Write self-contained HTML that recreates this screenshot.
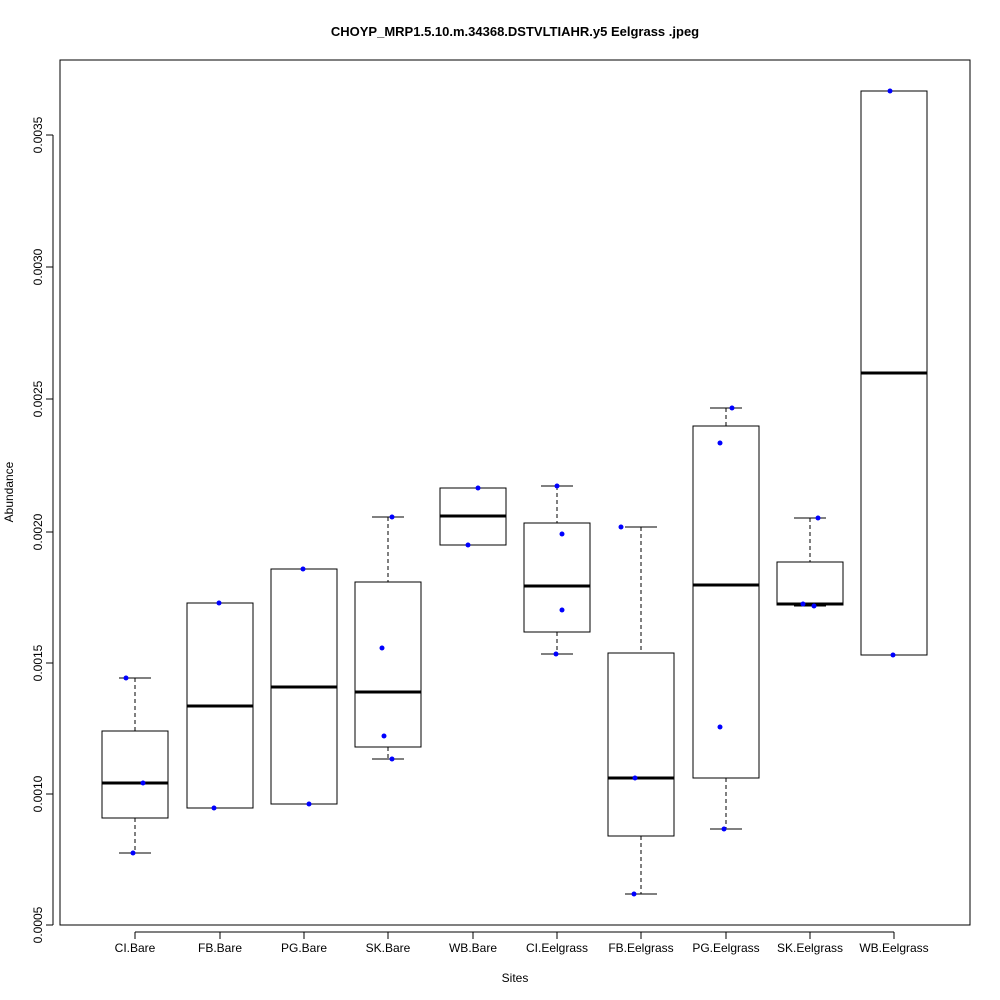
<!DOCTYPE html>
<html><head><style>body{margin:0;background:#fff}svg{display:block}text{font-family:"Liberation Sans",Arial,sans-serif}</style></head><body>
<svg width="1000" height="1000" viewBox="0 0 1000 1000">
<rect width="1000" height="1000" fill="#fff"/>
<text x="515" y="36" text-anchor="middle" font-size="13" font-weight="bold">CHOYP_MRP1.5.10.m.34368.DSTVLTIAHR.y5 Eelgrass .jpeg</text>
<rect x="60" y="60" width="910" height="865" fill="none" stroke="#000"/>
<g stroke="#000">
<line x1="53" y1="135" x2="53" y2="925"/>
<line x1="46" y1="925" x2="53" y2="925"/><line x1="46" y1="794" x2="53" y2="794"/><line x1="46" y1="663" x2="53" y2="663"/><line x1="46" y1="532" x2="53" y2="532"/><line x1="46" y1="399" x2="53" y2="399"/><line x1="46" y1="267" x2="53" y2="267"/><line x1="46" y1="135" x2="53" y2="135"/>
<line x1="135" y1="932" x2="894" y2="932"/>
<line x1="135" y1="932" x2="135" y2="939"/><line x1="220" y1="932" x2="220" y2="939"/><line x1="304" y1="932" x2="304" y2="939"/><line x1="388" y1="932" x2="388" y2="939"/><line x1="473" y1="932" x2="473" y2="939"/><line x1="557" y1="932" x2="557" y2="939"/><line x1="641" y1="932" x2="641" y2="939"/><line x1="726" y1="932" x2="726" y2="939"/><line x1="810" y1="932" x2="810" y2="939"/><line x1="894" y1="932" x2="894" y2="939"/>
</g>
<g font-size="12" text-anchor="middle">
<text transform="translate(42,925) rotate(-90)">0.0005</text>
<text transform="translate(42,794) rotate(-90)">0.0010</text>
<text transform="translate(42,663) rotate(-90)">0.0015</text>
<text transform="translate(42,532) rotate(-90)">0.0020</text>
<text transform="translate(42,399) rotate(-90)">0.0025</text>
<text transform="translate(42,267) rotate(-90)">0.0030</text>
<text transform="translate(42,135) rotate(-90)">0.0035</text>
<text x="135" y="952">CI.Bare</text><text x="220" y="952">FB.Bare</text><text x="304" y="952">PG.Bare</text><text x="388" y="952">SK.Bare</text><text x="473" y="952">WB.Bare</text><text x="557" y="952">CI.Eelgrass</text><text x="641" y="952">FB.Eelgrass</text><text x="726" y="952">PG.Eelgrass</text><text x="810" y="952">SK.Eelgrass</text><text x="894" y="952">WB.Eelgrass</text>
<text x="515" y="982">Sites</text>
<text transform="translate(13,492) rotate(-90)">Abundance</text>
</g>
<g fill="none" stroke="#000">
<!-- CI.Bare -->
<line x1="135" y1="678" x2="135" y2="731" stroke-dasharray="4,3"/><line x1="135" y1="818" x2="135" y2="853" stroke-dasharray="4,3"/>
<line x1="119" y1="678" x2="151" y2="678"/><line x1="119" y1="853" x2="151" y2="853"/>
<rect x="102" y="731" width="66" height="87"/><line x1="102" y1="783" x2="168" y2="783" stroke-width="3"/>
<!-- FB.Bare -->
<line x1="204" y1="603" x2="236" y2="603"/><line x1="204" y1="808" x2="236" y2="808"/>
<rect x="187" y="603" width="66" height="205"/><line x1="187" y1="706" x2="253" y2="706" stroke-width="3"/>
<!-- PG.Bare -->
<line x1="288" y1="569" x2="320" y2="569"/><line x1="288" y1="804" x2="320" y2="804"/>
<rect x="271" y="569" width="66" height="235"/><line x1="271" y1="687" x2="337" y2="687" stroke-width="3"/>
<!-- SK.Bare -->
<line x1="388" y1="517" x2="388" y2="582" stroke-dasharray="4,3"/><line x1="388" y1="747" x2="388" y2="759" stroke-dasharray="4,3"/>
<line x1="372" y1="517" x2="404" y2="517"/><line x1="372" y1="759" x2="404" y2="759"/>
<rect x="355" y="582" width="66" height="165"/><line x1="355" y1="692" x2="421" y2="692" stroke-width="3"/>
<!-- WB.Bare -->
<line x1="457" y1="488" x2="489" y2="488"/><line x1="457" y1="545" x2="489" y2="545"/>
<rect x="440" y="488" width="66" height="57"/><line x1="440" y1="516" x2="506" y2="516" stroke-width="3"/>
<!-- CI.Eelgrass -->
<line x1="557" y1="486" x2="557" y2="523" stroke-dasharray="4,3"/><line x1="557" y1="632" x2="557" y2="654" stroke-dasharray="4,3"/>
<line x1="541" y1="486" x2="573" y2="486"/><line x1="541" y1="654" x2="573" y2="654"/>
<rect x="524" y="523" width="66" height="109"/><line x1="524" y1="586" x2="590" y2="586" stroke-width="3"/>
<!-- FB.Eelgrass -->
<line x1="641" y1="527" x2="641" y2="653" stroke-dasharray="4,3"/><line x1="641" y1="836" x2="641" y2="894" stroke-dasharray="4,3"/>
<line x1="625" y1="527" x2="657" y2="527"/><line x1="625" y1="894" x2="657" y2="894"/>
<rect x="608" y="653" width="66" height="183"/><line x1="608" y1="778" x2="674" y2="778" stroke-width="3"/>
<!-- PG.Eelgrass -->
<line x1="726" y1="408" x2="726" y2="426" stroke-dasharray="4,3"/><line x1="726" y1="778" x2="726" y2="829" stroke-dasharray="4,3"/>
<line x1="710" y1="408" x2="742" y2="408"/><line x1="710" y1="829" x2="742" y2="829"/>
<rect x="693" y="426" width="66" height="352"/><line x1="693" y1="585" x2="759" y2="585" stroke-width="3"/>
<!-- SK.Eelgrass -->
<line x1="810" y1="518" x2="810" y2="562" stroke-dasharray="4,3"/>
<line x1="794" y1="518" x2="826" y2="518"/><line x1="794" y1="606" x2="826" y2="606"/>
<rect x="777" y="562" width="66" height="43"/><line x1="777" y1="604" x2="843" y2="604" stroke-width="3"/>
<!-- WB.Eelgrass -->
<line x1="878" y1="91" x2="910" y2="91"/><line x1="878" y1="655" x2="910" y2="655"/>
<rect x="861" y="91" width="66" height="564"/><line x1="861" y1="373" x2="927" y2="373" stroke-width="3"/>
</g>
<g fill="#00f">
<circle cx="126" cy="678" r="2.5"/><circle cx="143" cy="783" r="2.5"/><circle cx="133" cy="853" r="2.5"/>
<circle cx="219" cy="603" r="2.5"/><circle cx="214" cy="808" r="2.5"/>
<circle cx="303" cy="569" r="2.5"/><circle cx="309" cy="804" r="2.5"/>
<circle cx="392" cy="517" r="2.5"/><circle cx="382" cy="648" r="2.5"/><circle cx="384" cy="736" r="2.5"/><circle cx="392" cy="759" r="2.5"/>
<circle cx="478" cy="488" r="2.5"/><circle cx="468" cy="545" r="2.5"/>
<circle cx="557" cy="486" r="2.5"/><circle cx="562" cy="534" r="2.5"/><circle cx="562" cy="610" r="2.5"/><circle cx="556" cy="654" r="2.5"/>
<circle cx="621" cy="527" r="2.5"/><circle cx="635" cy="778" r="2.5"/><circle cx="634" cy="894" r="2.5"/>
<circle cx="732" cy="408" r="2.5"/><circle cx="720" cy="443" r="2.5"/><circle cx="720" cy="727" r="2.5"/><circle cx="724" cy="829" r="2.5"/>
<circle cx="818" cy="518" r="2.5"/><circle cx="803" cy="604" r="2.5"/><circle cx="814" cy="606" r="2.5"/>
<circle cx="890" cy="91" r="2.5"/><circle cx="893" cy="655" r="2.5"/>
</g>
</svg>
</body></html>
